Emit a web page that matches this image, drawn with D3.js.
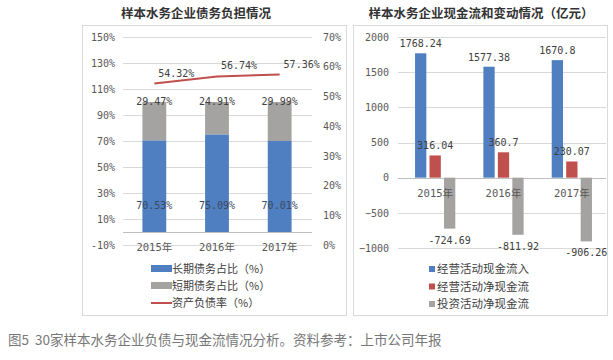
<!DOCTYPE html>
<html>
<head>
<meta charset="utf-8">
<script src="https://cdn.jsdelivr.net/npm/d3@7"></script>
<style>
  body { margin: 0; background: #fff; }
  text { font-family: "DejaVu Sans Mono", "Noto Sans CJK SC", monospace; }
  .cjk { font-family: "Noto Sans CJK SC", sans-serif; }
</style>
</head>
<body>
<div id="container"></div>
<script>
// data
var years = ["2015年", "2016年", "2017年"];
var longDebt = [70.53, 75.09, 70.01];
var shortDebt = [29.47, 24.91, 29.99];
var assetLiab = [54.32, 56.74, 57.36];
var leftTicks = [-10, 10, 30, 50, 70, 90, 110, 130, 150];
var rightTicks = [0, 10, 20, 30, 40, 50, 60, 70];

var cfSeries = ["经营活动现金流入", "经营活动净现金流", "投资活动净现金流"];
var opInflow = [1768.24, 1577.38, 1670.8];
var opNet = [316.04, 360.7, 230.07];
var invNet = [-724.69, -811.92, -906.26];
var cfTicks = [-1000, -500, 0, 500, 1000, 1500, 2000];

var debtLegend = ["长期债务占比（%）", "短期债务占比（%）", "资产负债率（%）"];

width = 613;
height = 360;

var blue = "#4f7fc0", red = "#c0504d", grey = "#a5a3a1", grid = "#d9d9d9", txt = "#404040";

var svg = d3.select("#container").append("svg")
    .attr("width", width)
    .attr("height", height);

// panel borders
svg.append("rect").attr("x", 82.5).attr("y", 25.5).attr("width", 264).attr("height", 290)
    .style("fill", "none").style("stroke", grid);
svg.append("rect").attr("x", 353.5).attr("y", 25.5).attr("width", 254).attr("height", 290)
    .style("fill", "none").style("stroke", grid);

// titles
svg.append("text").attr("class", "cjk").attr("x", 196).attr("y", 18)
    .attr("text-anchor", "middle").style("font-size", "12.5px").style("font-weight", "bold")
    .style("fill", "#333").text("样本水务企业债务负担情况");
svg.append("text").attr("class", "cjk").attr("x", 481).attr("y", 18)
    .attr("text-anchor", "middle").style("font-size", "12.5px").style("font-weight", "bold")
    .style("fill", "#333").text("样本水务企业现金流和变动情况（亿元）");

// ---------- left chart ----------
var x1 = d3.scaleBand().domain(years).range([123, 311]).paddingInner(0.62).paddingOuter(0.31);
var yL = d3.scaleLinear().domain([-10, 150]).range([245, 37]);
var yR = d3.scaleLinear().domain([0, 70]).range([245, 37]);

var g1 = svg.append("g");

g1.selectAll(".grid1").data(leftTicks).enter().append("line")
    .attr("x1", 123).attr("x2", 312)
    .attr("y1", function(d) { return Math.round(yL(d)) + 0.5; })
    .attr("y2", function(d) { return Math.round(yL(d)) + 0.5; })
    .style("stroke", grid);

var axL = g1.append("g").attr("transform", "translate(118,0)")
    .call(d3.axisLeft(yL).tickValues(leftTicks).tickSize(0).tickFormat(function(d) { return d + "%"; }));
axL.select(".domain").remove();
axL.selectAll("text").style("font-size", "10px").style("fill", "#595959")
    .style("font-family", "DejaVu Sans Mono");

var axR = g1.append("g").attr("transform", "translate(320,0)")
    .call(d3.axisRight(yR).tickValues(rightTicks).tickSize(0).tickFormat(function(d) { return d + "%"; }));
axR.select(".domain").remove();
axR.selectAll("text").style("font-size", "10px").style("fill", "#595959")
    .style("font-family", "DejaVu Sans Mono");

// zero axis line
g1.append("line").attr("x1", 123).attr("x2", 312)
    .attr("y1", Math.round(yL(0)) + 0.5).attr("y2", Math.round(yL(0)) + 0.5)
    .style("stroke", "#bfbfbf");

// stacked bars
g1.selectAll(".long").data(longDebt).enter().append("rect")
    .attr("x", function(d, i) { return x1(years[i]); })
    .attr("width", x1.bandwidth())
    .attr("y", function(d) { return yL(d); })
    .attr("height", function(d) { return yL(0) - yL(d); })
    .style("fill", blue);
g1.selectAll(".short").data(shortDebt).enter().append("rect")
    .attr("x", function(d, i) { return x1(years[i]); })
    .attr("width", x1.bandwidth())
    .attr("y", function(d, i) { return yL(longDebt[i] + d); })
    .attr("height", function(d, i) { return yL(longDebt[i]) - yL(longDebt[i] + d); })
    .style("fill", grey);

// bar labels
g1.selectAll(".lbl1").data(longDebt).enter().append("text")
    .attr("x", function(d, i) { return x1(years[i]) + x1.bandwidth() / 2; })
    .attr("y", yL(20) + 3)
    .attr("text-anchor", "middle").style("font-size", "10px").style("fill", "#3a4a5e")
    .text(function(d) { return d.toFixed(2) + "%"; });
g1.selectAll(".lbl2").data(shortDebt).enter().append("text")
    .attr("x", function(d, i) { return x1(years[i]) + x1.bandwidth() / 2; })
    .attr("y", function(d, i) { return yL(longDebt[i] + d) + 3; })
    .attr("text-anchor", "middle").style("font-size", "10px").style("fill", txt)
    .text(function(d) { return d.toFixed(2) + "%"; });

// asset-liability line
var line = d3.line()
    .x(function(d, i) { return x1(years[i]) + x1.bandwidth() / 2; })
    .y(function(d) { return yR(d); });
g1.append("path").datum(assetLiab).attr("d", line)
    .style("fill", "none").style("stroke", red).style("stroke-width", 2);
g1.selectAll(".lbl3").data(assetLiab).enter().append("text")
    .attr("x", function(d, i) { return x1(years[i]) + x1.bandwidth() / 2 + 22; })
    .attr("y", function(d) { return yR(d) - 7; })
    .attr("text-anchor", "middle").style("font-size", "10px").style("fill", txt)
    .text(function(d) { return d.toFixed(2) + "%"; });

// category labels
g1.selectAll(".cat1").data(years).enter().append("text")
    .attr("x", function(d) { return x1(d) + x1.bandwidth() / 2; })
    .attr("y", yL(0) + 19)
    .attr("text-anchor", "middle").style("font-size", "10.5px").style("fill", "#595959")
    .text(function(d) { return d; });

// legend
var leg1 = g1.selectAll(".leg1").data(debtLegend).enter().append("g")
    .attr("transform", function(d, i) { return "translate(151," + (269 + i * 17) + ")"; });
leg1.each(function(d, i) {
    var g = d3.select(this);
    if (i < 2) {
        g.append("rect").attr("x", 0).attr("y", -4).attr("width", 21).attr("height", 7)
            .style("fill", i == 0 ? blue : grey);
    } else {
        g.append("line").attr("x1", 0).attr("x2", 21).attr("y1", 0).attr("y2", 0)
            .style("stroke", red).style("stroke-width", 2);
    }
    g.append("text").attr("class", "cjk").attr("x", 21).attr("y", 4)
        .style("font-size", "11px").style("fill", txt).text(d);
});

// ---------- right chart ----------
var x2 = d3.scaleBand().domain(years).range([401, 606]);
var xs = d3.scaleBand().domain([0, 1, 2]).range([0, x2.bandwidth()]).paddingInner(0.22).paddingOuter(0.97);
var y2 = d3.scaleLinear().domain([-1000, 2000]).range([248, 37]);
var cfData = [opInflow, opNet, invNet];
var cfColors = [blue, red, grey];

var g2 = svg.append("g");

g2.selectAll(".grid2").data(cfTicks).enter().append("line")
    .attr("x1", 398).attr("x2", 606)
    .attr("y1", function(d) { return Math.round(y2(d)) + 0.5; })
    .attr("y2", function(d) { return Math.round(y2(d)) + 0.5; })
    .style("stroke", function(d) { return d == 0 ? "#bfbfbf" : grid; });

var ax2 = g2.append("g").attr("transform", "translate(392,0)")
    .call(d3.axisLeft(y2).tickValues(cfTicks).tickSize(0).tickFormat(d3.format("d")));
ax2.select(".domain").remove();
ax2.selectAll("text").style("font-size", "10px").style("fill", "#595959")
    .style("font-family", "DejaVu Sans Mono");

cfData.forEach(function(series, s) {
    g2.selectAll(".cf" + s).data(series).enter().append("rect")
        .attr("x", function(d, i) { return x2(years[i]) + xs(s); })
        .attr("width", xs.bandwidth())
        .attr("y", function(d) { return y2(Math.max(0, d)); })
        .attr("height", function(d) { return Math.abs(y2(d) - y2(0)); })
        .style("fill", cfColors[s]);
    g2.selectAll(".cfl" + s).data(series).enter().append("text")
        .attr("x", function(d, i) { return x2(years[i]) + xs(s) + xs.bandwidth() / 2; })
        .attr("y", function(d) { return d >= 0 ? y2(d) - 6 : y2(d) + 15; })
        .attr("text-anchor", "middle").style("font-size", "10px").style("fill", txt)
        .text(function(d) { return d; });
});

g2.selectAll(".cat2").data(years).enter().append("text")
    .attr("x", function(d) { return x2(d) + x2.bandwidth() / 2; })
    .attr("y", y2(0) + 19)
    .attr("text-anchor", "middle").style("font-size", "10.5px").style("fill", "#595959")
    .text(function(d) { return d; });

var leg2 = g2.selectAll(".leg2").data(cfSeries).enter().append("g")
    .attr("transform", function(d, i) { return "translate(429," + (269 + i * 17.5) + ")"; });
leg2.append("rect").attr("x", 0).attr("y", -3).attr("width", 6).attr("height", 6)
    .style("fill", function(d, i) { return cfColors[i]; });
leg2.append("text").attr("class", "cjk").attr("x", 8).attr("y", 4)
    .style("font-size", "11.5px").style("fill", txt).text(function(d) { return d; });

// caption
svg.append("text").attr("class", "cjk").attr("x", 8).attr("y", 345)
    .style("font-size", "13.5px").style("fill", "#777").style("white-space", "pre")
    .text("图5  30家样本水务企业负债与现金流情况分析。资料参考：上市公司年报");
</script>
</body>
</html>
